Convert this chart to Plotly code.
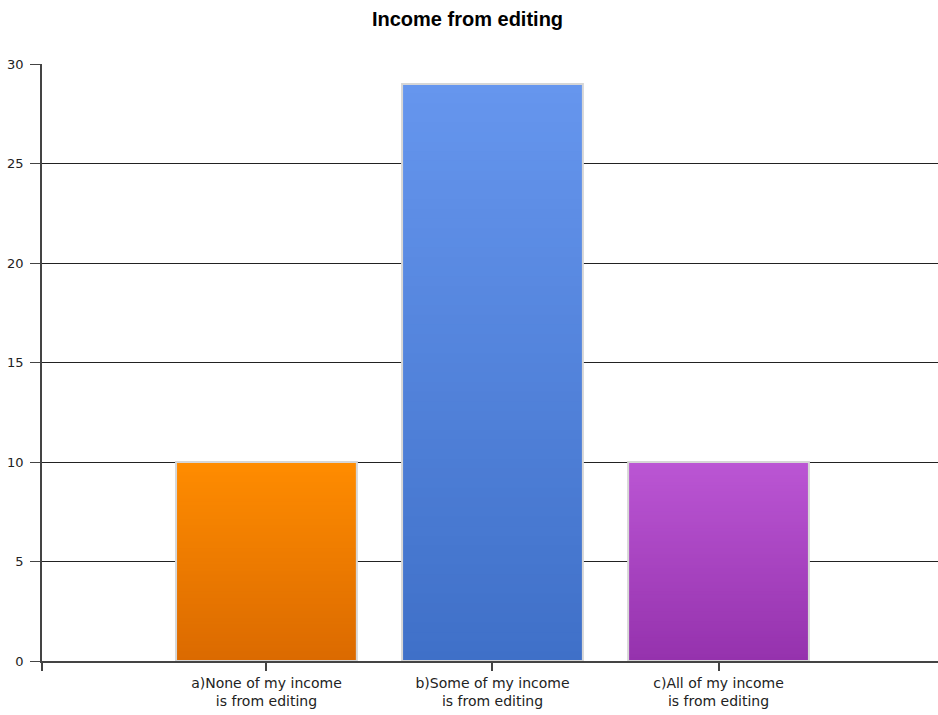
import plotly.graph_objects as go

categories = ["a)None of my income<br>is from editing",
              "b)Some of my income<br>is from editing",
              "c)All of my income<br>is from editing"]
positions = [1, 2, 3]
values = [10, 29, 10]
top_colors = ["#FF8C00", "#6696EE", "#BB56D4"]
bottom_colors = ["#DB6A00", "#3F70C8", "#9532AD"]
y_ticks = [0, 5, 10, 15, 20, 25, 30]

X0, X1 = 0.007, 3.971
N = 60


def hex2rgb(h):
    h = h.lstrip("#")
    return [int(h[i:i + 2], 16) for i in (0, 2, 4)]


def mix(c1, c2, t):
    a, b = hex2rgb(c1), hex2rgb(c2)
    return "rgb(%d,%d,%d)" % tuple(round(a[i] + (b[i] - a[i]) * t) for i in range(3))


fig = go.Figure()
# gradient: each slice runs from its base up to the bar top; later slices overlay earlier ones
for k in range(N):
    t = (k + 0.5) / N  # 0 at bottom, 1 at top
    fig.add_trace(go.Bar(
        x=positions,
        y=[v - k * v / N for v in values],
        base=[k * v / N for v in values],
        width=0.8,
        marker=dict(color=[mix(b, tc, t) for b, tc in zip(bottom_colors, top_colors)],
                    line=dict(width=0)),
        showlegend=False, hoverinfo="skip",
    ))

fig.add_trace(go.Bar(
    x=positions, y=values, width=0.8,
    marker=dict(color="rgba(0,0,0,0)", line=dict(color="#D6D6D6", width=2)),
    showlegend=False,
))

W, H = 938, 715
fig.update_layout(
    barmode="overlay",
    width=W, height=H,
    margin=dict(l=42, r=0, t=64, b=54),
    plot_bgcolor="white", paper_bgcolor="white",
    font=dict(family="DejaVu Sans, sans-serif", size=14, color="#222"),
    title=dict(text="<b>Income from editing</b>", x=467.5 / W, xanchor="center",
               xref="container",
               y=1 - 19 / H, yanchor="middle",
               font=dict(family="Liberation Sans, Arial, sans-serif", size=20, color="#000")),
    xaxis=dict(range=[X0, X1], tickvals=[X0 + 0.002] + positions, ticktext=[""] + categories,
               showgrid=False, zeroline=False,
               showline=True, linecolor="#444", linewidth=1.5,
               ticks="outside", ticklen=8, tickcolor="#444", tickwidth=1.5,
               tickfont=dict(size=14, color="#222")),
    yaxis=dict(range=[0, 30], tickvals=y_ticks,
               showgrid=True, gridcolor="#222", gridwidth=1,
               zeroline=False,
               showline=True, linecolor="#444", linewidth=1.5,
               ticks="outside", ticklen=10, tickcolor="#444",
               ticklabelstandoff=4,
               tickfont=dict(size=13, color="#222")),
)

fig.write_html("out.html",
               config={"displayModeBar": False},
               post_script="document.body.style.margin='0';document.body.style.overflow='hidden';")
